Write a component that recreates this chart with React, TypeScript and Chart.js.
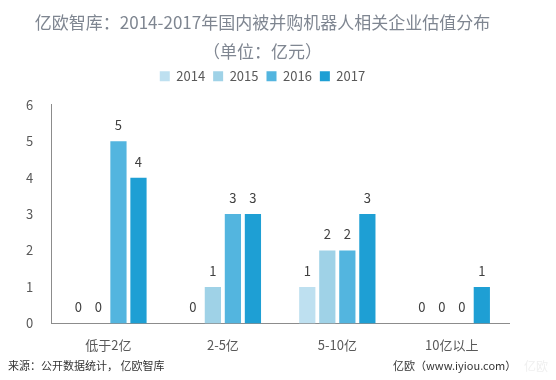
import React, { useEffect, useRef } from "react";
import { Chart, registerables } from "chart.js";

Chart.register(...registerables);

const categories = ["低于2亿", "2-5亿", "5-10亿", "10亿以上"];
const seriesNames = ["2014", "2015", "2016", "2017"];
const v2014 = [0, 0, 1, 0];
const v2015 = [0, 1, 2, 0];
const v2016 = [5, 3, 2, 0];
const v2017 = [4, 3, 3, 1];
const colors = ["#BEE0F0", "#9FD2E7", "#53B5DF", "#1E9FD4"];
const yTicks = [0, 1, 2, 3, 4, 5, 6];

const FONT = '"Noto Sans CJK SC", "Noto Sans", sans-serif';

const legendSpacing = {
  id: "legendSpacing",
  beforeInit(chart: any) {
    const legend = chart.legend;
    if (!legend) return;
    const orig = legend.fit;
    legend.fit = function () {
      orig.call(this);
      this.height += 12;
    };
  },
};

const labelsPlugin = {
  id: "valueLabels",
  afterDatasetsDraw(chart: any) {
    const ctx = chart.ctx;
    ctx.save();
    ctx.font = `13px ${FONT}`;
    ctx.fillStyle = "#404040";
    ctx.textAlign = "center";
    ctx.textBaseline = "middle";
    chart.data.datasets.forEach((ds: any, i: number) => {
      const meta = chart.getDatasetMeta(i);
      meta.data.forEach((el: any, j: number) => {
        ctx.fillText(String(ds.data[j]), el.x, el.y - 16);
      });
    });
    ctx.restore();
  },
};

const footerPlugin = {
  id: "footer",
  afterDraw(chart: any) {
    const ctx = chart.ctx;
    ctx.save();
    ctx.font = `11px ${FONT}`;
    ctx.fillStyle = "#333333";
    ctx.textBaseline = "middle";
    ctx.textAlign = "left";
    ctx.fillText("来源：公开数据统计， 亿欧智库", 8, 366);
    ctx.fillText("亿欧（www.iyiou.com）", 393, 366);
    ctx.fillStyle = "#EFEFEF";
    ctx.font = `12px ${FONT}`;
    ctx.fillText("亿欧", 524, 366);
    ctx.restore();
  },
};

export default function App() {
  const ref = useRef<HTMLCanvasElement>(null);
  useEffect(() => {
    const values = [v2014, v2015, v2016, v2017];
    const chart = new Chart(ref.current!, {
      type: "bar",
      data: {
        labels: categories,
        datasets: seriesNames.map((n, i) => ({
          label: n,
          data: values[i],
          backgroundColor: colors[i],
          categoryPercentage: 0.7,
          barPercentage: 0.81,
        })),
      },
      options: {
        animation: false,
        responsive: false,
        maintainAspectRatio: false,
        layout: { padding: { left: 16, right: 47, top: 6, bottom: 21 } },
        plugins: {
          title: {
            display: true,
            text: "亿欧智库：2014-2017年国内被并购机器人相关企业估值分布",
            color: "#7F8691",
            font: { family: FONT, size: 17, weight: "normal" },
            padding: { top: 6, bottom: 9 },
          },
          subtitle: {
            display: true,
            text: "（单位：亿元）",
            color: "#7F8691",
            font: { family: FONT, size: 17, weight: "normal" },
            padding: { top: 0, bottom: 0 },
          },
          legend: {
            display: true,
            position: "top",
            labels: {
              boxWidth: 10,
              boxHeight: 10,
              padding: 8,
              color: "#595959",
              font: { family: FONT, size: 13 },
            },
          },
          tooltip: { enabled: false },
        },
        scales: {
          x: {
            grid: { display: false },
            border: { display: true, color: "#8C8C8C" },
            ticks: { color: "#595959", font: { family: FONT, size: 13 }, padding: 6 },
          },
          y: {
            min: 0,
            max: 6,
            grid: { display: false },
            border: { display: true, color: "#8C8C8C" },
            afterBuildTicks: (axis: any) => {
              axis.ticks = yTicks.map((v) => ({ value: v }));
            },
            ticks: { color: "#595959", font: { family: FONT, size: 13 }, padding: 10 },
          },
        },
      },
      plugins: [legendSpacing, labelsPlugin, footerPlugin],
    });
    return () => chart.destroy();
  }, []);
  return (
    <div style={{ position: "fixed", left: 0, top: 0, width: 556, height: 380, background: "#fff" }}>
      <canvas ref={ref} width={556} height={380} />
    </div>
  );
}
